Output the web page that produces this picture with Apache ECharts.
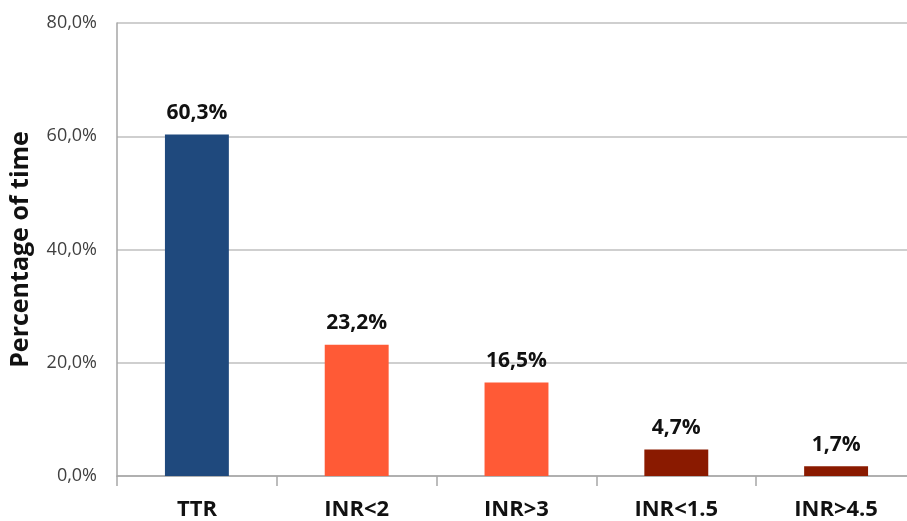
<!DOCTYPE html>
<html><head><meta charset="utf-8">
<script src="https://cdn.jsdelivr.net/npm/echarts@6/dist/echarts.min.js"></script>
<style>html,body{margin:0;padding:0;background:#fff;overflow:hidden;width:907px;height:521px}#c{width:916px;height:521px}</style>
</head><body><div id="c"></div>
<script>
const categories = ['TTR', 'INR<2', 'INR>3', 'INR<1.5', 'INR>4.5'];
const values = [60.3, 23.2, 16.5, 4.7, 1.7];
const colors = ['#1F497D', '#FF5A36', '#FF5A36', '#8A1A00', '#8A1A00'];
const yTicks = [0, 20, 40, 60, 80];
const fmt = v => v.toFixed(1).replace('.', ',') + '%';

const chart = echarts.init(document.getElementById('c'));
chart.setOption({
  animation: false,
  grid: { left: 116, top: 23, right: 0, bottom: 45, containLabel: false },
  xAxis: {
    type: 'category', data: categories,
    axisLine: { lineStyle: { color: '#A6A6A6', width: 1.5 } },
    axisTick: { show: true, length: 10, alignWithLabel: false, lineStyle: { color: '#A6A6A6', width: 1.5 } },
    axisLabel: { color: '#111', fontFamily: 'Open Sans', fontWeight: 'bold', fontSize: 22, margin: 23 }
  },
  yAxis: {
    type: 'value', min: 0, max: 80, interval: 20,
    name: 'Percentage of time', nameLocation: 'middle', nameGap: 84,
    nameTextStyle: { color: '#111', fontFamily: 'Open Sans', fontWeight: 'bold', fontSize: 25 },
    axisLine: { show: true, lineStyle: { color: '#A6A6A6', width: 1.5 } },
    axisTick: { show: false },
    splitLine: { lineStyle: { color: '#BFBFBF', width: 1.5 } },
    axisLabel: { color: '#404040', fontFamily: 'Open Sans', fontSize: 18, margin: 20,
      formatter: v => yTicks.includes(v) ? fmt(v) : '' }
  },
  series: [{
    type: 'bar', barWidth: '40%',
    data: values.map((v, i) => ({ value: v, itemStyle: { color: colors[i] } })),
    label: { show: true, position: 'top', distance: 11, color: '#111', fontFamily: 'Open Sans',
      fontWeight: 'bold', fontSize: 21, formatter: p => fmt(p.value) }
  }]
});
</script></body></html>
